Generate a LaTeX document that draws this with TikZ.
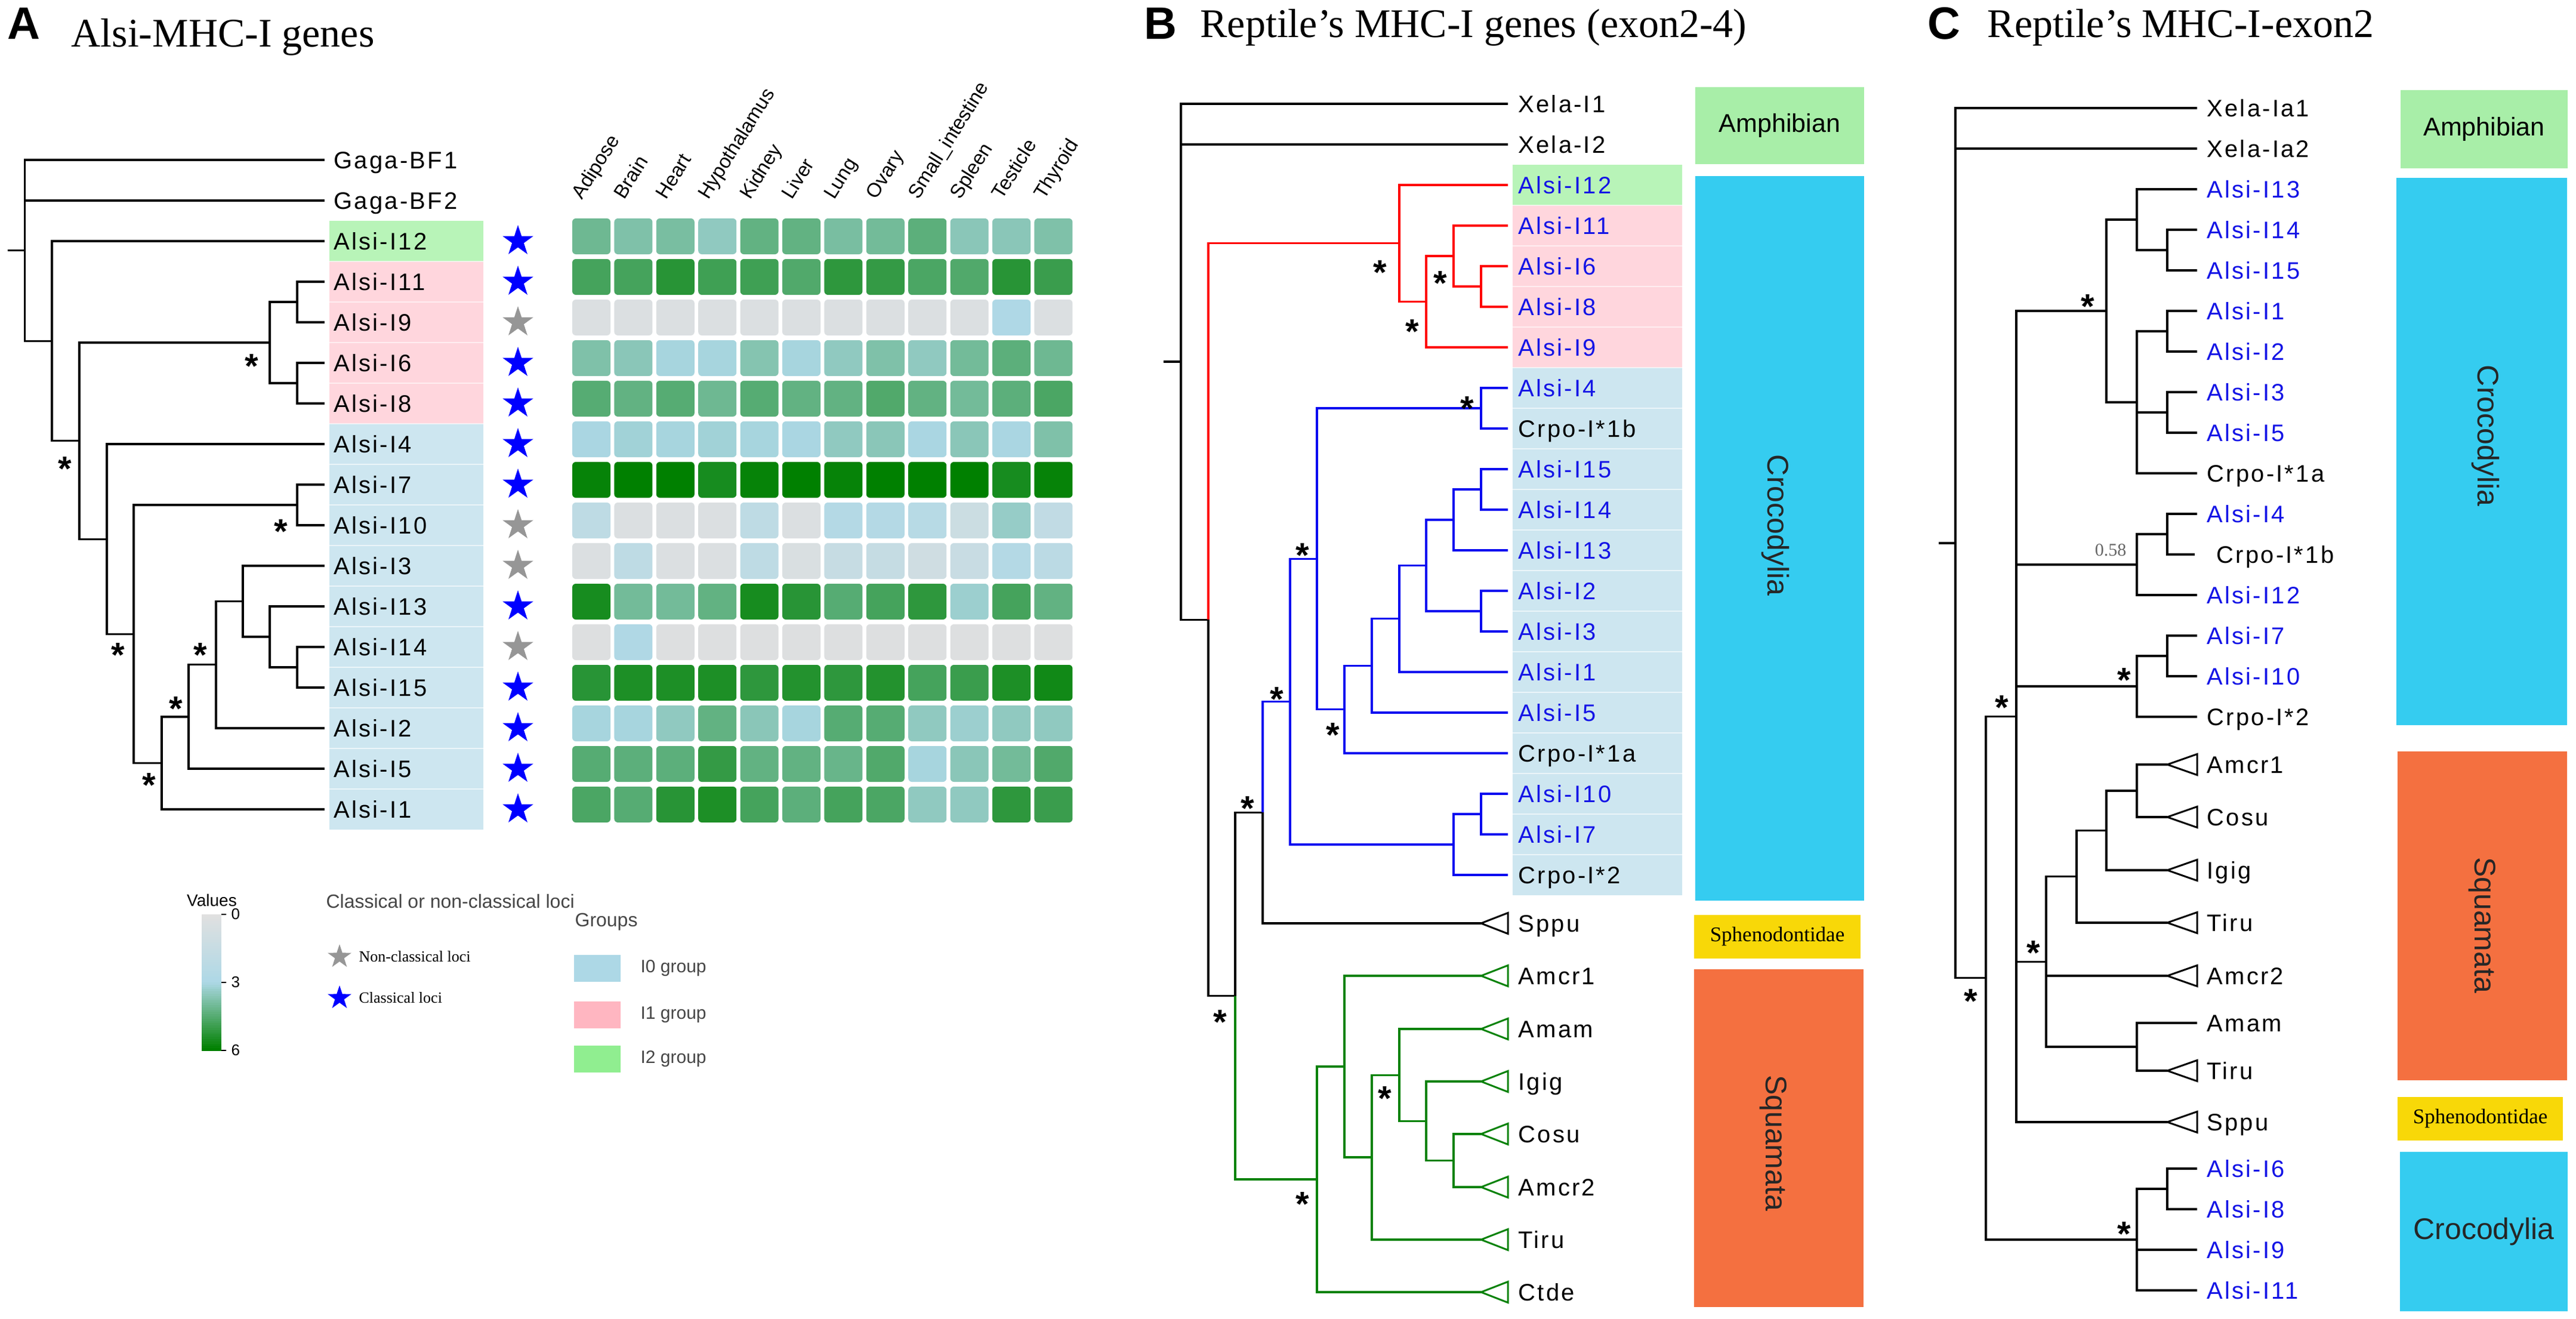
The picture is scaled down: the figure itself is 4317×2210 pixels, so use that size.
\documentclass[tikz,border=0pt]{standalone}
\usepackage{fontspec}
\setmainfont{Liberation Serif}
\newfontfamily\sansf{Liberation Sans}
\newfontfamily\labf[LetterSpace=8]{Liberation Sans}
\usetikzlibrary{shapes.geometric}
\newcommand\myfs[1]{\fontsize{#1}{#1}\selectfont}
% clade elbow: [style] node-x, top-child-x, top-y, bottom-child-x, bottom-y
\newcommand\cl[6][]{\draw[#1] (#3,#4) -- (#2,#4) -- (#2,#6) -- (#5,#6);}
% collapsed clade triangle: [colour] apex-x, width, y
\newcommand\tri[4][black]{\draw[#1,fill=white,line width=3pt] (#2,#4) -- ++(#3,-17.5) -- ++(0,35) -- cycle;}
\definecolor{hmgray}{RGB}{224,224,224}
\definecolor{hmblue}{RGB}{173,216,230}
\definecolor{hmgreen}{RGB}{0,128,0}
\definecolor{bandG}{RGB}{184,244,184}
\definecolor{bandP}{RGB}{255,214,221}
\definecolor{bandB}{RGB}{205,230,240}
\definecolor{boxAmph}{RGB}{168,238,168}
\definecolor{boxCroc}{RGB}{53,204,240}
\definecolor{boxSphe}{RGB}{248,216,8}
\definecolor{boxSqua}{RGB}{244,112,64}
\definecolor{alsiblue}{RGB}{20,20,230}
\definecolor{brred}{RGB}{255,0,0}
\definecolor{brblue}{RGB}{10,10,240}
\definecolor{brgreen}{RGB}{10,130,10}
\definecolor{stargray}{RGB}{150,150,150}
\definecolor{starblue}{RGB}{0,0,255}
\definecolor{legI0}{RGB}{173,216,230}
\definecolor{legI1}{RGB}{255,182,193}
\definecolor{legI2}{RGB}{144,238,144}
\definecolor{legtext}{RGB}{70,70,70}
\begin{document}
\begin{tikzpicture}[x=1pt,y=-1pt,line width=3.2pt,
  rb/.style={draw=brred}, bb/.style={draw=brblue}, gb/.style={draw=brgreen},
  tl/.style={font=\labf\myfs{40}, anchor=base west, inner sep=0, yshift=-14.3pt},
  ast/.style={font=\sansf\bfseries\myfs{58}, inner sep=0, yshift=-12pt},
  locstar/.style={star, star points=5, star point ratio=2.6, inner sep=0, minimum size=54},
  panel/.style={font=\sansf\bfseries\myfs{76}, anchor=base west, inner sep=0},
  ttl/.style={font=\rmfamily\myfs{68}, anchor=base west, inner sep=0},
  boxtxt/.style={font=\sansf\myfs{43}, inner sep=0},
  bigtxt/.style={font=\sansf\myfs{50}, inner sep=0, text=black!85},
  sphtxt/.style={font=\rmfamily\myfs{35}, inner sep=0},
  sep/.style={draw=white, line width=1.5pt, opacity=0.6}]
\useasboundingbox (0,0) rectangle (4317,2210);
\fill[white] (0,0) rectangle (4317,2210);

% ================= PANEL A =================
\node[panel] (pA) at (11,66) {A};
\node[ttl] (tA) at (118,79) {Alsi-MHC-I genes};

% label bands
\fill[bandG] (552,370) rectangle (810,438);
\fill[bandP] (552,438) rectangle (810,710);
\fill[bandB] (552,710) rectangle (810,1390);
\foreach \k in {0,...,13} \draw[sep] (552,{438+68*\k}) -- (810,{438+68*\k});

% tree A
\draw (12.5,419.6) -- (41.5,419.6);
\cl{41.5}{544}{268}{87}{571.3}
\draw (41.5,336) -- (544,336);
\cl{87}{544}{404}{133}{738.6}
\cl{133}{452}{574}{179}{903.1}
\cl{452}{498}{506}{498}{642}
\cl{498}{544}{472}{544}{540}
\cl{498}{544}{608}{544}{676}
\cl{179}{544}{744}{224}{1062.2}
\cl{224}{498}{846}{271}{1278.4}
\cl{498}{544}{812}{544}{880}
\cl{271}{316}{1200.9}{544}{1356}
\cl{316}{362}{1113.75}{544}{1288}
\cl{362}{407}{1007.5}{544}{1220}
\cl{407}{544}{948}{452}{1067}
\cl{452}{544}{1016}{498}{1118}
\cl{498}{544}{1084}{544}{1152}

\foreach \p [count=\i] in {(109,774),(422,602),(471,879),(198,1086),(336,1086),(295,1176),(250,1304)}
  \node[ast] (astA\i) at \p {*};

\foreach \t/\y [count=\i] in {Gaga-BF1/268,Gaga-BF2/336,Alsi-I12/404,Alsi-I11/472,Alsi-I9/540,Alsi-I6/608,Alsi-I8/676,Alsi-I4/744,Alsi-I7/812,Alsi-I10/880,Alsi-I3/948,Alsi-I13/1016,Alsi-I14/1084,Alsi-I15/1152,Alsi-I2/1220,Alsi-I5/1288,Alsi-I1/1356}
  \node[tl] (labA\i) at (558,\y) {\t};

% loci stars
\foreach \y/\c [count=\i] in {404/starblue,472/starblue,540/stargray,608/starblue,676/starblue,744/starblue,812/starblue,880/stargray,948/stargray,1016/starblue,1084/stargray,1152/starblue,1220/starblue,1288/starblue,1356/starblue}
  \node[locstar, fill=\c] (locA\i) at (868,\y) {};

% heatmap column labels
\foreach \n [count=\c from 0] in {Adipose,Brain,Heart,Hypothalamus,Kidney,Liver,Lung,Ovary,Small\_intestine,Spleen,Testicle,Thyroid}
  \node[rotate=58, anchor=base west, font=\sansf\myfs{33}, inner sep=0] (col\c) at ({959+70.4*\c+16},337) {\n};

% heatmap cells
\foreach \vals [count=\r from 2] in {
 {4.1,3.8,3.9,3.5,4.3,4.3,3.9,4.0,4.4,3.6,3.6,3.8},
 {4.8,4.8,5.3,4.9,4.9,4.6,5.2,5.1,4.7,4.6,5.3,5.0},
 {0.3,0.3,0.3,0.3,0.3,0.3,0.3,0.3,0.3,0.3,2.9,0.3},
 {3.8,3.6,3.1,3.1,3.7,3.1,3.5,3.8,3.5,4.0,4.4,4.1},
 {4.5,4.3,4.5,4.1,4.5,4.3,4.3,4.6,4.3,4.0,4.4,4.7},
 {3.05,3.2,3.1,3.2,3.1,3.05,3.5,3.6,3.05,3.6,3.05,3.8},
 {5.9,6,6,5.6,5.9,6,5.9,6,6,6,5.6,5.9},
 {2.0,0.3,0.3,0.3,2.0,0.3,2.6,2.6,2.4,1.2,3.4,1.8},
 {0.3,2.0,0.3,0.3,2.0,0.4,1.5,1.6,1.0,1.4,2.6,2.2},
 {5.6,4.0,4.0,4.3,5.6,5.3,4.5,4.8,5.2,3.3,4.8,4.3},
 {0.2,2.8,0.2,0.2,0.2,0.2,0.2,0.2,0.2,0.2,0.2,0.2},
 {5.3,5.5,5.5,5.5,5.2,5.4,5.2,5.4,4.8,5.0,5.5,5.7},
 {3.1,3.1,3.5,4.3,3.6,3.1,4.5,4.5,3.5,3.3,3.5,3.5},
 {4.5,4.4,4.4,5.1,4.3,4.3,4.2,4.6,3.1,3.6,4.0,4.6},
 {4.7,4.5,5.3,5.5,4.8,4.4,4.8,4.7,3.5,3.5,5.2,5.0}} {
  \foreach \v [count=\c from 0] in \vals {
    \pgfmathsetmacro\xx{959+70.4*\c}
    \pgfmathsetmacro\yy{268+68*\r-38}
    \pgfmathtruncatemacro\lo{\v<3?1:0}
    \ifnum\lo=1 \pgfmathsetmacro\pc{\v/3*100}\colorlet{cc}{hmblue!\pc!hmgray}%
    \else \pgfmathsetmacro\pc{(\v-3)/3*100}\colorlet{cc}{hmgreen!\pc!hmblue}\fi
    \fill[cc, rounded corners=6] (\xx,\yy) rectangle ++(64,60);
  }
}

% legend: values
\node[font=\sansf\myfs{28}, inner sep=0] (valT) at (355,1508) {Values};
\foreach \i in {0,...,59} {
  \pgfmathsetmacro\v{\i/59*6}
  \pgfmathtruncatemacro\lo{\v<3?1:0}
  \ifnum\lo=1 \pgfmathsetmacro\pc{\v/3*100}\colorlet{cc}{hmblue!\pc!hmgray}%
  \else \pgfmathsetmacro\pc{(\v-3)/3*100}\colorlet{cc}{hmgreen!\pc!hmblue}\fi
  \fill[cc] (338,{1532+3.8*\i}) rectangle (371,{1532+3.8*(\i+1)+0.5});
}
\foreach \y/\t [count=\i] in {1532/0,1646/3,1760/6} {
  \draw[line width=1.5pt] (371,\y) -- (379,\y);
  \node[font=\sansf\myfs{26}, anchor=west, inner sep=0] (tick\i) at (386,\y) {\t};
}
% legend: loci
\node[font=\sansf\myfs{32}, anchor=west, inner sep=0, text=legtext] (locT) at (545,1510) {Classical or non-classical loci};
\node[locstar, fill=stargray, minimum size=42] (locG) at (569,1603) {};
\node[font=\rmfamily\myfs{26}, anchor=west, inner sep=0] (locGt) at (600,1603) {Non-classical loci};
\node[locstar, fill=starblue, minimum size=42] (locB) at (569,1672) {};
\node[font=\rmfamily\myfs{26}, anchor=west, inner sep=0] (locBt) at (600,1672) {Classical loci};
% legend: groups
\node[font=\sansf\myfs{32}, anchor=west, inner sep=0, text=legtext] (grpT) at (962,1545) {Groups};
\fill[legI0] (962,1600) rectangle (1040,1645);
\node[font=\sansf\myfs{30}, anchor=west, inner sep=0, text=legtext] (g0) at (1072,1622) {I0 group};
\fill[legI1] (962,1678) rectangle (1040,1723);
\node[font=\sansf\myfs{30}, anchor=west, inner sep=0, text=legtext] (g1) at (1072,1700) {I1 group};
\fill[legI2] (962,1752) rectangle (1040,1797);
\node[font=\sansf\myfs{30}, anchor=west, inner sep=0, text=legtext] (g2) at (1072,1774) {I2 group};

% ================= PANEL B =================
\node[panel] (pB) at (1916,66) {B};
\node[ttl] (tB) at (2010,63) {Reptile’s MHC-I genes (exon2-4)};

\fill[bandG] (2535,276) rectangle (2819,344);
\fill[bandP] (2535,344) rectangle (2819,616);
\fill[bandB] (2535,616) rectangle (2819,1500);
\foreach \k in {0,...,16} \draw[sep] (2535,{344+68*\k}) -- (2819,{344+68*\k});

\draw (1950,606) -- (1979,606);
\cl{1979}{2527}{174}{2025}{1038.2}
\draw (1979,242) -- (2527,242);
\draw[rb] (2345,407.75) -- (2025,407.75) -- (2025,1038.2);
\draw (2025,1038.2) -- (2025,1668.7) -- (2070,1668.7);
\cl[rb]{2345}{2527}{310}{2390}{505.5}
\cl[rb]{2390}{2436}{429}{2527}{582}
\cl[rb]{2436}{2527}{378}{2482}{480}
\cl[rb]{2482}{2527}{446}{2527}{514}
\draw (2116,1361.3) -- (2070,1361.3) -- (2070,1668.7);
\draw[gb] (2070,1668.7) -- (2070,1976) -- (2207,1976);
\draw[bb] (2162,1175.7) -- (2116,1175.7) -- (2116,1361.3);
\draw (2116,1361.3) -- (2116,1547) -- (2482,1547);
\cl[bb]{2162}{2207}{936.3}{2436}{1415}
\cl[bb]{2207}{2482}{684}{2253}{1188.7}
\cl[bb]{2482}{2527}{650}{2527}{718}
\cl[bb]{2253}{2299}{1115.4}{2527}{1262}
\cl[bb]{2299}{2345}{1036.75}{2527}{1194}
\cl[bb]{2345}{2390}{947.5}{2527}{1126}
\cl[bb]{2390}{2436}{871}{2482}{1024}
\cl[bb]{2436}{2482}{820}{2527}{922}
\cl[bb]{2482}{2527}{786}{2527}{854}
\cl[bb]{2482}{2527}{990}{2527}{1058}
\cl[bb]{2436}{2482}{1364}{2527}{1466}
\cl[bb]{2482}{2527}{1330}{2527}{1398}
\cl[gb]{2207}{2253}{1787}{2482}{2165}
\cl[gb]{2253}{2482}{1635}{2299}{1939}
\cl[gb]{2299}{2345}{1801.1}{2482}{2077}
\cl[gb]{2345}{2482}{1724}{2390}{1878.25}
\cl[gb]{2390}{2482}{1812}{2436}{1944.5}
\cl[gb]{2436}{2482}{1900}{2482}{1989}
\tri{2482}{45}{1547}
\foreach \y in {1635,1724,1812,1900,1989,2077,2165} { \tri[brgreen]{2482}{45}{\y} }

\foreach \p [count=\i] in {(2313,445),(2367,544),(2414,463),(2459,673),(2183,919),(2140,1160),(2234,1220),(2091,1343),(2045,1701),(2183,2006),(2321,1829)}
  \node[ast] (astB\i) at \p {*};

\foreach \t/\y/\c [count=\i] in {Xela-I1/174/black,Xela-I2/242/black,Alsi-I12/310/alsiblue,Alsi-I11/378/alsiblue,Alsi-I6/446/alsiblue,Alsi-I8/514/alsiblue,Alsi-I9/582/alsiblue,Alsi-I4/650/alsiblue,Crpo-I*1b/718/black,Alsi-I15/786/alsiblue,Alsi-I14/854/alsiblue,Alsi-I13/922/alsiblue,Alsi-I2/990/alsiblue,Alsi-I3/1058/alsiblue,Alsi-I1/1126/alsiblue,Alsi-I5/1194/alsiblue,Crpo-I*1a/1262/black,Alsi-I10/1330/alsiblue,Alsi-I7/1398/alsiblue,Crpo-I*2/1466/black,Sppu/1547/black,Amcr1/1635/black,Amam/1724/black,Igig/1812/black,Cosu/1900/black,Amcr2/1989/black,Tiru/2077/black,Ctde/2165/black}
  \node[tl, text=\c] (labB\i) at (2543,\y) {\t};

\fill[boxAmph] (2841,146) rectangle (3124,275);
\node[boxtxt] (bAmph) at (2982.5,210.5) {Amphibian};
\fill[boxCroc] (2841,295) rectangle (3124,1509);
\node[bigtxt, rotate=-90] (bCroc) at (2975,880) {Crocodylia};
\fill[boxSphe] (2839,1533) rectangle (3118,1606);
\node[sphtxt] (bSphe) at (2978.5,1569.5) {Sphenodontidae};
\fill[boxSqua] (2839,1624) rectangle (3123,2190);
\node[bigtxt, rotate=-90] (bSqua) at (2972,1915) {Squamata};

% ================= PANEL C =================
\node[panel] (pC) at (3229,66) {C};
\node[ttl] (tC) at (3329,63) {Reptile’s MHC-I-exon2};

\draw (3249,909.9) -- (3277,909.9);
\cl{3277}{3682}{181}{3328}{1638.75}
\draw (3277,249) -- (3682,249);
\cl{3328}{3379}{1200.5}{3581}{2077}
\cl{3379}{3530}{521}{3632}{1880}
\draw (3379,946) -- (3581,946);
\draw (3379,1150) -- (3581,1150);
\draw (3379,1611.4) -- (3429,1611.4);
\cl{3530}{3581}{368}{3581}{674}
\cl{3581}{3682}{317}{3632}{419}
\cl{3632}{3682}{385}{3682}{453}
\cl{3581}{3632}{555}{3682}{793}
\draw (3581,691) -- (3632,691);
\cl{3632}{3682}{521}{3682}{589}
\cl{3632}{3682}{657}{3682}{725}
\cl{3581}{3632}{895}{3682}{997}
\cl{3632}{3682}{861}{3678}{929}
\cl{3581}{3632}{1099}{3682}{1201}
\cl{3632}{3682}{1065}{3682}{1133}
\cl{3429}{3480}{1468.75}{3581}{1754}
\draw (3429,1635) -- (3632,1635);
\cl{3480}{3530}{1391.5}{3632}{1546}
\cl{3530}{3581}{1325}{3632}{1458}
\cl{3581}{3632}{1281}{3632}{1369}
\cl{3581}{3682}{1714}{3632}{1794}
\cl{3581}{3632}{1992}{3682}{2162}
\draw (3581,2094) -- (3682,2094);
\cl{3632}{3682}{1958}{3682}{2026}
\foreach \y in {1281,1369,1458,1546,1635,1794,1880} { \tri{3632}{50}{\y} }

\foreach \p [count=\i] in {(3499,502),(3355,1174),(3303,1666),(3560,1128),(3408,1585),(3560,2056)}
  \node[ast] (astC\i) at \p {*};
\node[font=\rmfamily\myfs{30}, text=black!60, inner sep=0] (bs058) at (3537,922) {0.58};

\foreach \t/\y/\c [count=\i] in {Xela-Ia1/181/black,Xela-Ia2/249/black,Alsi-I13/317/alsiblue,Alsi-I14/385/alsiblue,Alsi-I15/453/alsiblue,Alsi-I1/521/alsiblue,Alsi-I2/589/alsiblue,Alsi-I3/657/alsiblue,Alsi-I5/725/alsiblue,Crpo-I*1a/793/black,Alsi-I4/861/alsiblue,Alsi-I12/997/alsiblue,Alsi-I7/1065/alsiblue,Alsi-I10/1133/alsiblue,Crpo-I*2/1201/black,Amcr1/1281/black,Cosu/1369/black,Igig/1458/black,Tiru/1546/black,Amcr2/1635/black,Amam/1714/black,Tiru/1794/black,Sppu/1880/black,Alsi-I6/1958/alsiblue,Alsi-I8/2026/alsiblue,Alsi-I9/2094/alsiblue,Alsi-I11/2162/alsiblue}
  \node[tl, text=\c] (labC\i) at (3697,\y) {\t};
\node[tl] (labC1b) at (3713,929) {Crpo-I*1b};

\fill[boxAmph] (4023,151) rectangle (4303,282);
\node[boxtxt] (cAmph) at (4163,216.5) {Amphibian};
\fill[boxCroc] (4016,298) rectangle (4302,1215);
\node[bigtxt, rotate=-90] (cCroc) at (4165,730) {Crocodylia};
\fill[boxSqua] (4018,1259) rectangle (4302,1810);
\node[bigtxt, rotate=-90] (cSqua) at (4160,1550) {Squamata};
\fill[boxSphe] (4018,1838) rectangle (4295,1911);
\node[sphtxt] (cSphe) at (4156.5,1874.5) {Sphenodontidae};
\fill[boxCroc] (4022,1930) rectangle (4303,2197);
\node[bigtxt] (cCroc2) at (4162.5,2063.5) {Crocodylia};
\end{tikzpicture}
\end{document}
